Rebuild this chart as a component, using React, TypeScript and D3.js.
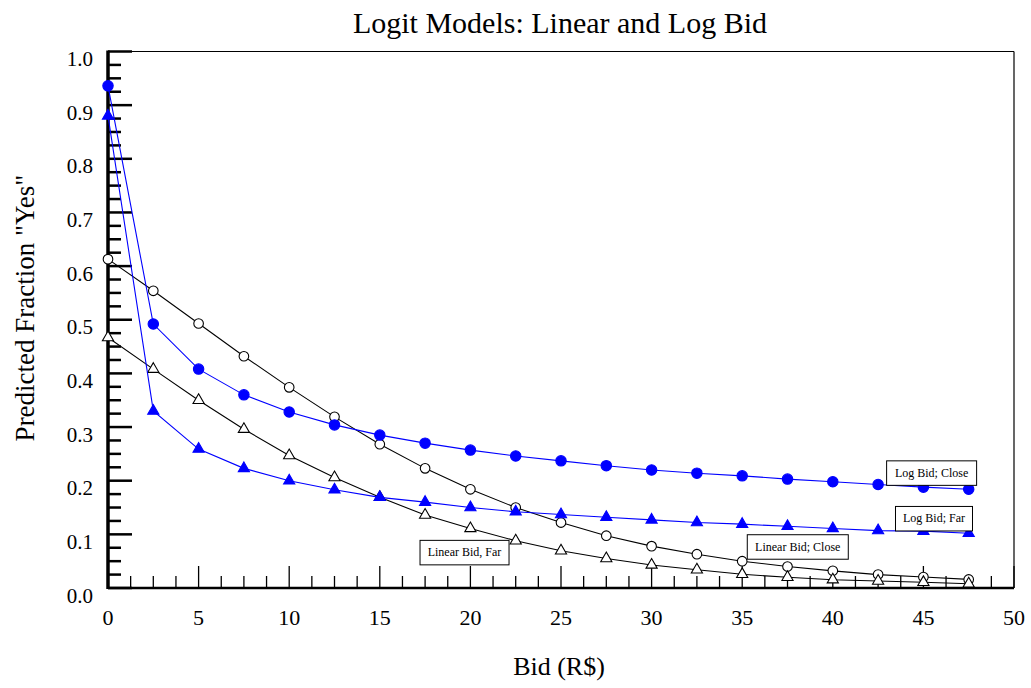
import React from "react";
import * as d3 from "d3";

const bids = [0, 2.5, 5, 7.5, 10, 12.5, 15, 17.5, 20, 22.5, 25, 27.5, 30, 32.5, 35, 37.5, 40, 42.5, 45, 47.5];
const logClose = [0.936, 0.492, 0.408, 0.360, 0.328, 0.304, 0.285, 0.270, 0.257, 0.246, 0.237, 0.228, 0.220, 0.214, 0.209, 0.203, 0.198, 0.193, 0.188, 0.184];
const logFar = [0.880, 0.330, 0.259, 0.223, 0.200, 0.183, 0.169, 0.160, 0.150, 0.142, 0.137, 0.132, 0.127, 0.122, 0.119, 0.115, 0.111, 0.107, 0.106, 0.102];
const linClose = [0.613, 0.554, 0.493, 0.432, 0.374, 0.319, 0.268, 0.223, 0.184, 0.150, 0.122, 0.0975, 0.078, 0.063, 0.050, 0.040, 0.032, 0.025, 0.0205, 0.016];
const linFar = [0.467, 0.408, 0.350, 0.296, 0.247, 0.206, 0.169, 0.136, 0.111, 0.088, 0.0695, 0.055, 0.043, 0.034, 0.0255, 0.020, 0.0155, 0.013, 0.0106, 0.008];
const xTicks = [0, 5, 10, 15, 20, 25, 30, 35, 40, 45, 50];
const yTicks = [0, 0.1, 0.2, 0.3, 0.4, 0.5, 0.6, 0.7, 0.8, 0.9, 1.0];

const W = 1031, H = 688;
const x = d3.scaleLinear().domain([0, 50]).range([108, 1014]);
const y = d3.scaleLinear().domain([0, 1]).range([588, 51.5]);
const FONT = "'Liberation Serif', 'Times New Roman', serif";

type Series = { vals: number[]; color: string; marker: "circle" | "triangle"; filled: boolean; label: string; box: [number, number, number, number] };

const series: Series[] = [
  { vals: linClose, color: "#000", marker: "circle", filled: false, label: "Linear Bid; Close", box: [35.28, 0.0993, 101, 24.5] },
  { vals: linFar, color: "#000", marker: "triangle", filled: false, label: "Linear Bid, Far", box: [17.22, 0.0888, 89, 24.5] },
  { vals: logClose, color: "#0000ff", marker: "circle", filled: true, label: "Log Bid; Close", box: [42.97, 0.237, 90, 24.5] },
  { vals: logFar, color: "#0000ff", marker: "triangle", filled: true, label: "Log Bid; Far", box: [43.46, 0.152, 77, 24.5] },
];

const tri = d3.symbol().type(d3.symbolTriangle).size(54);

export default function App() {
  const line = d3.line<number>().x((_, i) => x(bids[i])).y((d) => y(d));
  const minorX = d3.range(0, 50.001, 1.25);
  const minorY = d3.range(0, 1.0001, 0.025);
  return (
    <svg width={W} height={H} style={{ position: "absolute", left: 0, top: 0, background: "#fff" }} fontFamily={FONT}>
      <text x={560} y={33} textAnchor="middle" fontSize={30}>Logit Models: Linear and Log Bid</text>
      {/* frame */}
      <line x1={x(0)} x2={x(50)} y1={y(1)} y2={y(1)} stroke="#000" strokeWidth={1.2} />
      <line x1={x(50)} x2={x(50)} y1={y(1)} y2={y(0)} stroke="#000" strokeWidth={1.2} />
      {/* x ticks */}
      {minorX.map((t, i) => {
        const major = Math.abs(t / 5 - Math.round(t / 5)) < 1e-6;
        return <line key={"xt" + i} x1={x(t)} x2={x(t)} y1={y(0)} y2={y(0) - (major ? 22 : 12)} stroke="#000" strokeWidth={1.3} />;
      })}
      {/* y ticks */}
      {minorY.map((t, i) => {
        const major = Math.abs(t * 10 - Math.round(t * 10)) < 1e-6;
        return <line key={"yt" + i} x1={x(0)} x2={x(0) + (major ? 24 : 13)} y1={y(t)} y2={y(t)} stroke="#000" strokeWidth={2.5} />;
      })}
      <line x1={x(0)} x2={x(50)} y1={y(0)} y2={y(0)} stroke="#000" strokeWidth={2.5} />
      <line x1={x(0)} x2={x(0)} y1={y(1) - 1} y2={y(0) + 1} stroke="#000" strokeWidth={3.5} />
      {xTicks.map((t) => (
        <text key={"xl" + t} x={x(t)} y={625} textAnchor="middle" fontSize={22}>{t}</text>
      ))}
      {yTicks.map((t) => (
        <text key={"yl" + t} x={93} y={y(t) + 14.5} textAnchor="end" fontSize={21}>{t.toFixed(1)}</text>
      ))}
      <text x={559} y={675} textAnchor="middle" fontSize={26}>Bid (R$)</text>
      <text transform={`translate(34,308) rotate(-90)`} textAnchor="middle" fontSize={27}>Predicted Fraction "Yes"</text>
      {/* series */}
      {series.map((s, si) => (
        <g key={"s" + si}>
          <path d={line(s.vals) || ""} fill="none" stroke={s.color} strokeWidth={1.1} />
          {s.vals.map((v, i) =>
            s.marker === "circle" ? (
              <circle key={i} cx={x(bids[i])} cy={y(v)} r={s.filled ? 5.2 : 4.8} fill={s.filled ? s.color : "#fff"} stroke={s.color} strokeWidth={1.1} />
            ) : (
              <path key={i} d={tri() || ""} transform={`translate(${x(bids[i])},${y(v)})`} fill={s.filled ? s.color : "#fff"} stroke={s.color} strokeWidth={1.1} />
            )
          )}
        </g>
      ))}
      {/* labels */}
      {series.map((s, si) => {
        const bx = x(s.box[0]);
        const by = y(s.box[1]);
        return (
          <g key={"lb" + si}>
            <rect x={bx} y={by} width={s.box[2]} height={s.box[3]} fill="#fff" stroke="#000" strokeWidth={1} />
            <text x={bx + s.box[2] / 2} y={by + 16} textAnchor="middle" fontSize={12}>{s.label}</text>
          </g>
        );
      })}
    </svg>
  );
}
